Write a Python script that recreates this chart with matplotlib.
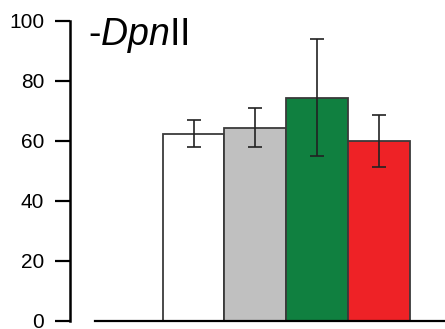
import numpy as np
import matplotlib
matplotlib.use('Agg')
import matplotlib.pyplot as plt
from matplotlib import transforms

plt.rcParams['font.family'] = ['Liberation Sans', 'DejaVu Sans']
plt.rcParams['mathtext.fontset'] = 'custom'
plt.rcParams['mathtext.rm'] = 'Liberation Sans'
plt.rcParams['mathtext.it'] = 'Liberation Sans:italic'

# ---- data ----
groups = ['1', '2', '3', '4']
values = [62.5, 64.5, 74.5, 60.1]
errors = [4.5, 6.6, 19.4, 8.6]
colors = ['#ffffff', '#c0c0c0', '#108040', '#ee2226']
yticks = [0, 20, 40, 60, 80, 100]

fig = plt.figure(figsize=(4.45, 3.29), dpi=100)
ax = fig.add_axes([70 / 445, 8 / 329, 375 / 445, 300 / 329])

x = np.arange(len(groups))
ax.bar(x, values, width=1.0, color=colors, edgecolor='#3a3a3a', linewidth=1.3)
ax.errorbar(x, values, yerr=errors, fmt='none', ecolor='#222222',
            elinewidth=1.2, capsize=5, capthick=1.2)

ax.set_xlim(-2.0, 4.07)
ax.set_ylim(0, 100)
ax.set_yticks(yticks)
ax.set_xticks([])

for s in ['top', 'right']:
    ax.spines[s].set_visible(False)
ax.spines['left'].set_linewidth(1.8)
ax.spines['bottom'].set_linewidth(1.6)
ax.spines['bottom'].set_bounds(-1.59, 4.07)
ax.tick_params(axis='y', length=10.5, width=1.6, labelsize=15, pad=8)

# title inside the axes, "Dpn" in italics
trans = transforms.blended_transform_factory(ax.transAxes, ax.transData)
ax.text(0.048, 92.0, r'-$\mathit{Dpn}$II', transform=trans,
        fontsize=27, va='baseline', ha='left')
ax.patch.set_visible(False)

fig.savefig('out.png', dpi=100)
